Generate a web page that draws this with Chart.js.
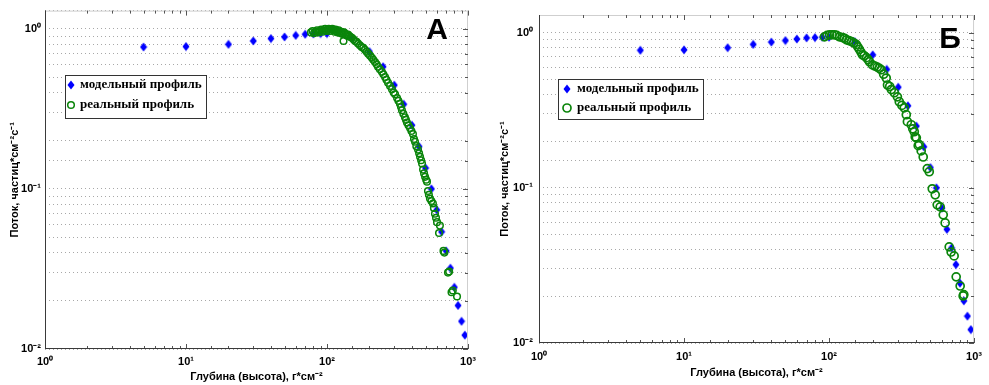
<!DOCTYPE html>
<html lang="ru">
<head>
  <meta charset="UTF-8">
  <title>Поток частиц: модельный и реальный профиль</title>
  <script src="https://cdn.jsdelivr.net/npm/chart.js"></script>
  <style>
    body {
      margin: 0;
      padding: 0;
      background: #fff;
      width: 989px;
      height: 385px;
      overflow: hidden;
    }

    .panel {
      position: absolute;
      top: 0;
      height: 385px;
    }

    #panelA { left: 0; width: 494px; }
    #panelB { left: 494px; width: 495px; }
  </style>
</head>
<body>
  <div class="panel" id="panelA"><canvas id="chartA"></canvas></div>
  <div class="panel" id="panelB"><canvas id="chartB"></canvas></div>

  <script>
    // model profile (same in both panels)
    const depthModel = [5, 10, 20, 30, 40, 50, 60, 70, 80, 90, 100, 150, 200, 250, 300, 350, 400,
      450, 500, 550, 600, 650, 700, 750, 800, 850, 900, 950];
    const fluxModel = [0.77, 0.775, 0.80, 0.84, 0.87, 0.89, 0.91, 0.925, 0.93, 0.935, 0.935, 0.875,
      0.72, 0.58, 0.445, 0.338, 0.25, 0.184, 0.135, 0.10, 0.074, 0.054, 0.041, 0.032, 0.0243,
      0.0187, 0.0149, 0.0122];

    // real profile, panel A
    const depthRealA = [77, 79, 81, 83, 85, 87, 89, 91, 93, 95, 97, 99, 101, 103, 105, 107, 109, 111,
      113, 115, 117, 119, 121, 123, 125, 127, 129, 131, 132, 135, 138, 141, 144, 147, 150, 154, 158,
      162, 166, 171, 176, 181, 186, 191, 196, 202, 208, 213, 219, 225, 230, 237, 245, 251, 258, 264,
      271, 280, 289, 297, 304, 314, 321, 329, 335, 340, 348, 357, 363, 369, 378, 388, 397, 407, 414,
      421, 430, 442, 450, 457, 465, 472, 480, 488, 496, 505, 512, 520, 528, 537, 550, 564, 573, 583,
      593, 603, 623, 632, 670, 680, 721, 735, 764, 780, 836];
    const fluxRealA = [0.95, 0.97, 0.94, 0.96, 0.98, 0.95, 0.97, 0.99, 0.96, 0.98, 1.0, 0.97, 0.99,
      1.0, 0.97, 0.99, 1.0, 0.98, 0.96, 0.99, 0.97, 0.95, 0.98, 0.96, 0.94, 0.96, 0.93, 0.84, 0.95,
      0.93, 0.91, 0.92, 0.90, 0.89, 0.88, 0.86, 0.84, 0.83, 0.81, 0.79, 0.77, 0.76, 0.74, 0.72, 0.70,
      0.68, 0.66, 0.64, 0.62, 0.60, 0.58, 0.56, 0.54, 0.52, 0.50, 0.48, 0.46, 0.44, 0.42, 0.40, 0.39,
      0.37, 0.355, 0.34, 0.325, 0.31, 0.295, 0.28, 0.27, 0.26, 0.25, 0.24, 0.23, 0.22, 0.205, 0.197,
      0.185, 0.176, 0.167, 0.159, 0.151, 0.144, 0.132, 0.125, 0.119, 0.114, 0.111, 0.097, 0.092,
      0.087, 0.084, 0.081, 0.076, 0.070, 0.066, 0.062, 0.053, 0.059, 0.041, 0.040, 0.030, 0.0305,
      0.0226, 0.0232, 0.0213];

    // real profile, panel Б
    const depthRealB = [93, 97, 101, 105, 109, 113, 118, 124, 128, 132, 137, 143, 148, 154, 158, 162,
      166, 170, 175, 181, 186, 190, 199, 207, 215, 222, 229, 238, 248, 253, 262, 269, 282, 296, 305,
      318, 330, 341, 347, 369, 378, 387, 393, 400, 412, 419, 432, 446, 476, 491, 515, 540, 557, 584,
      613, 632, 674, 695, 729, 753, 802, 841, 850];
    const fluxRealB = [0.94, 0.96, 0.97, 0.97, 0.97, 0.96, 0.94, 0.93, 0.92, 0.90, 0.89, 0.875, 0.86,
      0.84, 0.81, 0.78, 0.75, 0.72, 0.71, 0.69, 0.67, 0.65, 0.62, 0.61, 0.60, 0.59, 0.577, 0.54, 0.51,
      0.46, 0.45, 0.43, 0.41, 0.386, 0.359, 0.34, 0.328, 0.296, 0.267, 0.255, 0.24, 0.23, 0.213, 0.21,
      0.187, 0.19, 0.173, 0.158, 0.133, 0.127, 0.0986, 0.0901, 0.0777, 0.0754, 0.067, 0.0594, 0.0416,
      0.0386, 0.0364, 0.0267, 0.0233, 0.0201, 0.0205];

    const xTickLabels = ['10⁰', '10¹', '10²', '10³'];   // 1 .. 1000
    const yTickLabels = ['10⁻²', '10⁻¹', '10⁰'];        // 0.01 .. 1
    const legendLabels = ['модельный профиль', 'реальный профиль'];
    const xTitle = 'Глубина (высота), г*см⁻²';
    const yTitle = 'Поток, частиц*см⁻²с⁻¹';

    const BLUE = '#0000ff';
    const GREEN = '#0a850a';

    function toPoints(xs, ys) {
      return xs.map((x, i) => ({ x: x, y: ys[i] }));
    }

    function decade(v) {
      const e = Math.round(Math.log10(v));
      return Math.abs(Math.log10(v) - e) < 1e-6 ? e : null;
    }

    // MATLAB-like diamond marker (a bit taller than wide)
    const diamond = document.createElement('canvas');
    diamond.width = 8;
    diamond.height = 10;
    (function () {
      const c = diamond.getContext('2d');
      c.fillStyle = BLUE;
      c.beginPath();
      c.moveTo(4, 0.5);
      c.lineTo(7.5, 5);
      c.lineTo(4, 9.5);
      c.lineTo(0.5, 5);
      c.closePath();
      c.fill();
    })();

    // frame, inner tick marks, legend box and panel letter
    const framePlugin = {
      id: 'frame',
      afterDraw(chart, args, opts) {
        const { ctx, chartArea: a, scales: { x, y } } = chart;
        ctx.save();

        ctx.lineWidth = 1;
        ctx.strokeStyle = '#cfcfcf';
        ctx.beginPath();
        ctx.moveTo(a.left, a.top + 0.5);
        ctx.lineTo(a.right, a.top + 0.5);
        ctx.moveTo(a.right - 0.5, a.top);
        ctx.lineTo(a.right - 0.5, a.bottom);
        ctx.stroke();

        ctx.strokeStyle = '#555';
        ctx.beginPath();
        x.ticks.forEach(t => {
          const px = Math.round(x.getPixelForValue(t.value)) + 0.5;
          const len = decade(t.value) !== null ? 5 : 3;
          ctx.moveTo(px, a.bottom);
          ctx.lineTo(px, a.bottom - len);
          ctx.moveTo(px, a.top);
          ctx.lineTo(px, a.top + len);
        });
        y.ticks.forEach(t => {
          if (t.value > 1.0001) return;
          const py = Math.round(y.getPixelForValue(t.value)) + 0.5;
          const len = decade(t.value) !== null ? 5 : 3;
          ctx.moveTo(a.right, py);
          ctx.lineTo(a.right - len, py);
        });
        ctx.stroke();

        ctx.strokeStyle = '#3a3a3a';
        ctx.beginPath();
        ctx.moveTo(a.left + 0.5, a.top);
        ctx.lineTo(a.left + 0.5, a.bottom);
        ctx.moveTo(a.left, a.bottom - 0.5);
        ctx.lineTo(a.right, a.bottom - 0.5);
        ctx.stroke();

        // legend
        const L = opts.legend;
        ctx.fillStyle = '#fff';
        ctx.fillRect(L.x, L.y, L.w, L.h);
        ctx.strokeStyle = '#333';
        ctx.strokeRect(L.x + 0.5, L.y + 0.5, L.w, L.h);
        const ds = chart.data.datasets;
        ctx.drawImage(diamond, L.mx - 4, L.y + L.r1 - 5);
        ctx.strokeStyle = GREEN;
        ctx.lineWidth = opts.circleW;
        ctx.beginPath();
        ctx.arc(L.mx, L.y + L.r2, opts.circleR, 0, Math.PI * 2);
        ctx.stroke();
        ctx.fillStyle = '#000';
        ctx.font = 'bold 13px "Liberation Serif"';
        ctx.textAlign = 'left';
        ctx.textBaseline = 'middle';
        ctx.fillText(ds[0].label, L.tx, L.y + L.r1);
        ctx.fillText(ds[1].label, L.tx, L.y + L.r2);

        // panel letter
        ctx.font = 'bold 30px "Liberation Sans"';
        ctx.textAlign = 'center';
        ctx.fillText(opts.letter, opts.lx, opts.ly);
        ctx.restore();
      }
    };

    function makeChart(id, realX, realY, cfg) {
      const tickFont = { family: '"Liberation Sans", Arial', size: 11, weight: 'bold' };
      return new Chart(document.getElementById(id), {
        type: 'scatter',
        data: {
          datasets: [{
            label: legendLabels[0],
            data: toPoints(depthModel, fluxModel),
            pointStyle: diamond,
            order: 2
          }, {
            label: legendLabels[1],
            data: toPoints(realX, realY),
            pointStyle: 'circle',
            pointRadius: cfg.circleR,
            borderWidth: cfg.circleW,
            borderColor: GREEN,
            backgroundColor: 'rgba(0,0,0,0)',
            order: 1
          }]
        },
        options: {
          responsive: true,
          maintainAspectRatio: false,
          animation: false,
          events: [],
          layout: { padding: cfg.pad },
          plugins: {
            legend: { display: false },
            tooltip: { enabled: false },
            frame: cfg
          },
          scales: {
            x: {
              type: 'logarithmic',
              min: 1,
              max: 1000,
              afterFit: s => { s.height = cfg.xHeight; },
              grid: { display: false, drawTicks: false },
              border: { display: false },
              ticks: {
                autoSkip: false,
                maxRotation: 0,
                padding: cfg.xTickPad,
                color: '#000',
                font: tickFont,
                callback: v => {
                  const e = decade(v);
                  return e === null ? '' : xTickLabels[e];
                }
              },
              title: {
                display: true,
                text: xTitle,
                color: '#000',
                font: tickFont,
                padding: { top: 0, bottom: cfg.xTitlePad }
              }
            },
            y: {
              type: 'logarithmic',
              min: 0.01,
              max: 1.3,
              afterFit: s => { s.width = cfg.yWidth; },
              grid: {
                color: '#a8a8a8',
                lineWidth: 1,
                drawTicks: false
              },
              border: { display: false, dash: [1, 3] },
              ticks: {
                autoSkip: false,
                padding: cfg.yTickPad,
                color: '#000',
                font: tickFont,
                callback: v => {
                  const e = decade(v);
                  return e === null || v > 1.0001 ? '' : yTickLabels[e + 2];
                }
              },
              title: {
                display: true,
                text: yTitle,
                color: '#000',
                font: tickFont,
                padding: { top: cfg.yTitlePad, bottom: 0 }
              }
            }
          }
        },
        plugins: [framePlugin]
      });
    }

    makeChart('chartA', depthRealA, fluxRealA, {
      pad: { left: 0, top: 8, right: 26, bottom: 0 },
      yWidth: 45, xHeight: 36, yTitlePad: 8, xTitlePad: 1, yTickPad: 4, xTickPad: 6,
      circleR: 3.3, circleW: 1.5,
      legend: { x: 65, y: 75, w: 141, h: 43, mx: 71, tx: 80, r1: 10, r2: 30 },
      letter: 'А', lx: 437, ly: 31
    });

    makeChart('chartB', depthRealB, fluxRealB, {
      pad: { left: 0, top: 15, right: 14, bottom: 0 },
      yWidth: 45, xHeight: 42, yTitlePad: 4, xTitlePad: 5, yTickPad: 6, xTickPad: 7,
      circleR: 4, circleW: 1.7,
      legend: { x: 64, y: 79, w: 145, h: 40, mx: 73, tx: 83, r1: 10, r2: 29 },
      letter: 'Б', lx: 456, ly: 40
    });
  </script>
</body>
</html>
